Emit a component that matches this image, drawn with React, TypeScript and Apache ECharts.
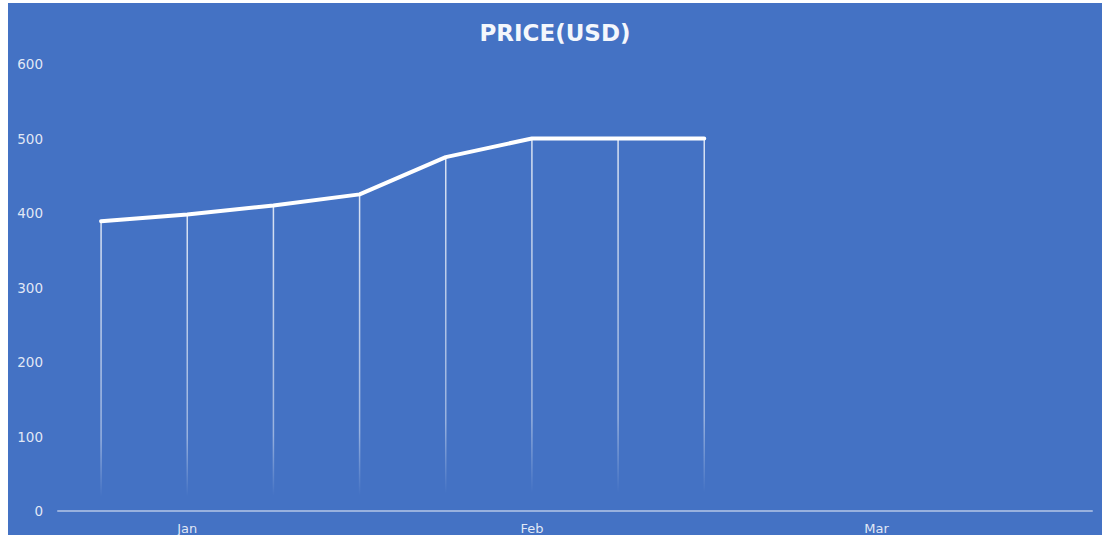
import React, { useEffect, useRef } from "react";
import * as echarts from "echarts";

const categories = ["", "Jan", "", "", "", "Feb", "", "", "", "Mar", "", ""];
const priceValues = [389, 398, 410, 425, 475, 500, 500, 500];
const yTicks = [0, 100, 200, 300, 400, 500, 600];
const titleText = "PRICE(USD)";

export default function App() {
  const ref = useRef<HTMLDivElement>(null);
  useEffect(() => {
    if (!ref.current) return;
    const chart = echarts.init(ref.current, undefined, { renderer: "svg" });
    const font = "'DejaVu Sans', 'Open Sans', sans-serif";
    chart.setOption({
      animation: false,
      backgroundColor: "#4472C4",
      title: {
        text: titleText,
        left: "center",
        top: 13,
        textStyle: { color: "#F4F7FC", fontSize: 23, fontWeight: "bold", fontFamily: font },
      },
      grid: { left: 50, right: 10, top: 61, bottom: 24, containLabel: false },
      xAxis: {
        type: "category",
        data: categories,
        boundaryGap: true,
        axisLine: { show: true, lineStyle: { color: "rgba(255,255,255,0.45)", width: 2 } },
        axisTick: { show: false },
        axisLabel: {
          interval: 0,
          color: "rgba(255,255,255,0.85)",
          fontSize: 13,
          fontFamily: font,
          margin: 11,
        },
        splitLine: { show: false },
      },
      yAxis: {
        type: "value",
        min: yTicks[0],
        max: yTicks[yTicks.length - 1],
        interval: 100,
        axisLine: { show: false },
        axisTick: { show: false },
        splitLine: { show: false },
        axisLabel: {
          color: "rgba(255,255,255,0.85)",
          fontSize: 13.5,
          fontFamily: font,
          margin: 15,
        },
      },
      series: [
        {
          type: "bar",
          data: priceValues,
          barWidth: 1.5,
          silent: true,
          z: 1,
          itemStyle: {
            color: {
              type: "linear",
              x: 0, y: 0, x2: 0, y2: 1,
              colorStops: [
                { offset: 0, color: "rgba(255,255,255,0.8)" },
                { offset: 0.75, color: "rgba(255,255,255,0.45)" },
                { offset: 0.95, color: "rgba(255,255,255,0)" },
                { offset: 1, color: "rgba(255,255,255,0)" },
              ],
            },
          },
        },
        {
          type: "line",
          data: priceValues,
          showSymbol: false,
          symbol: "none",
          z: 3,
          lineStyle: { color: "#FFFFFF", width: 4, join: "round", cap: "round" },
        },
      ],
    });
    return () => chart.dispose();
  }, []);
  return (
    <div
      ref={ref}
      style={{ position: "absolute", left: 8, top: 3, width: 1094, height: 532 }}
    />
  );
}
